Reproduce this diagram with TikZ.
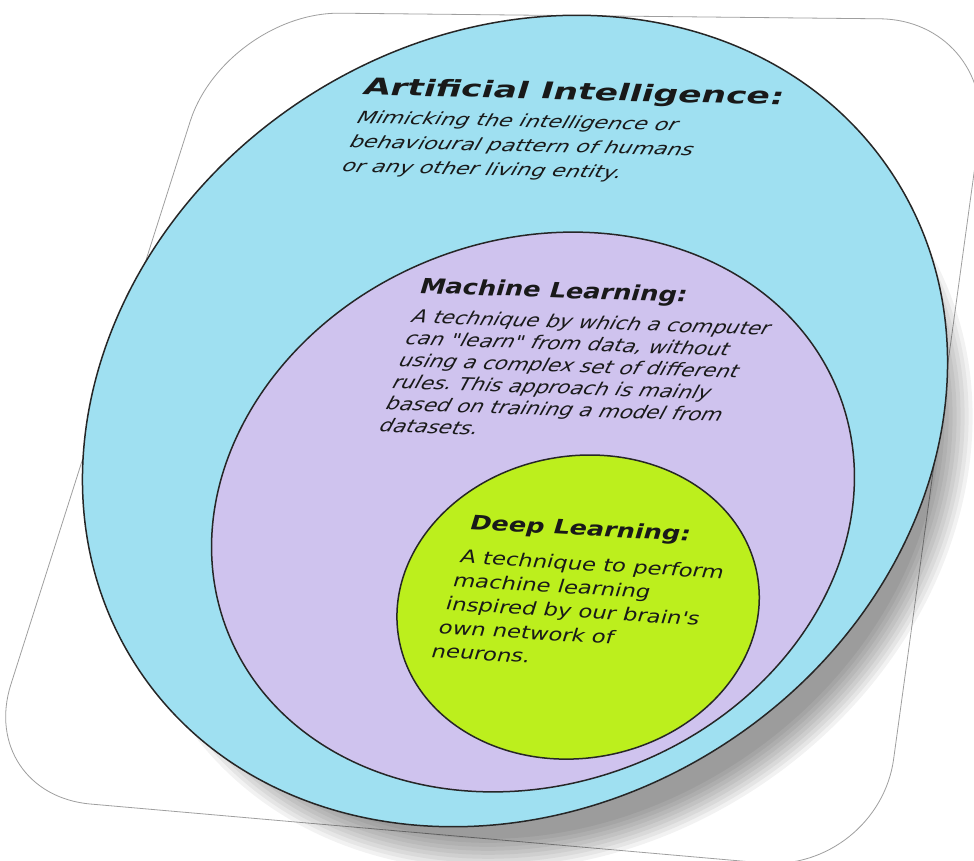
\documentclass[tikz,border=0pt]{standalone}
\usepackage{fontspec}
\setmainfont{DejaVu Sans}
\definecolor{aiblue}{HTML}{9FE0F1}
\definecolor{mlpurple}{HTML}{CFC3EE}
\definecolor{dlgreen}{HTML}{BCEF1D}
\frenchspacing
\begin{document}
\begin{tikzpicture}[x=1pt, y=-1pt]
\useasboundingbox (0,0) rectangle (974,861);

\coordinate (TL) at (225,12);
\coordinate (TR) at (995,20);
\coordinate (BR) at (878,873);
\coordinate (BL) at (-24,794);

\draw[gray!75, line width=0.8pt, fill=white, rounded corners=115pt] (TL) -- (TR) -- (BR) -- (BL) -- cycle;

\coordinate (AIc) at (515,421);
\coordinate (AIs) at (550,475);
\coordinate (MLc) at (533,512);
\coordinate (DLc) at (578,607);

% soft shadow under the outer ellipse
\foreach \d in {-16,-12,...,16}
  \fill[black, opacity=0.05, rotate around={33:(AIs)}] (AIs) ellipse [x radius=425+\d, y radius=359+\d];

\begin{scope}[line width=1.5pt, draw=black!85]
\filldraw[fill=aiblue, rotate around={33:(AIc)}] (AIc) ellipse [x radius=451, y radius=385];
\filldraw[fill=mlpurple, rotate around={21:(MLc)}] (MLc) ellipse [x radius=328, y radius=272];
\filldraw[fill=dlgreen, rotate around={10:(DLc)}] (DLc) ellipse [x radius=182, y radius=151];
\end{scope}

\begin{scope}[every node/.style={anchor=north west, align=left, inner sep=0pt, text=black!90}]
\node[font=\bfseries\fontsize{23}{27}\selectfont, rotate=-1.4, xslant=0.28, xscale=1.5] (AIt) at (367,77) {Artificial Intelligence:};
\node[font=\itshape\fontsize{17}{24.5}\selectfont, rotate=-1.4, xslant=0.28, xscale=1.3] (AIb) at (360,110)
  {Mimicking the intelligence or\\behavioural pattern of humans\\or any other living entity.};
\end{scope}

\begin{scope}[every node/.style={anchor=north west, align=left, inner sep=0pt, text=black!90}]
\node[font=\bfseries\fontsize{21}{25}\selectfont, rotate=-2, xslant=0.26, xscale=1.22] (MLt) at (423,277) {Machine Learning:};
\node[font=\itshape\fontsize{18}{22}\selectfont, rotate=-2, xslant=0.26, xscale=1.18] (MLb) at (415,309)
  {A technique by which a computer\\can \textquotedbl learn\textquotedbl{} from data, without\\using a complex set of different\\rules. This approach is mainly\\based on training a model from\\datasets.};
\end{scope}

\begin{scope}[every node/.style={anchor=north west, align=left, inner sep=0pt, text=black!90}]
\node[font=\bfseries\fontsize{20}{24}\selectfont, rotate=-3.2, xslant=0.24, xscale=1.28] (DLt) at (473,514) {Deep Learning:};
\node[font=\fontsize{18}{24}\selectfont, rotate=-3.5, xslant=0.24, xscale=1.26] (DLb) at (463,549)
  {A technique to perform\\machine learning\\inspired by our brain\textquotesingle s\\own network of\\neurons.};
\end{scope}

\end{tikzpicture}
\end{document}
